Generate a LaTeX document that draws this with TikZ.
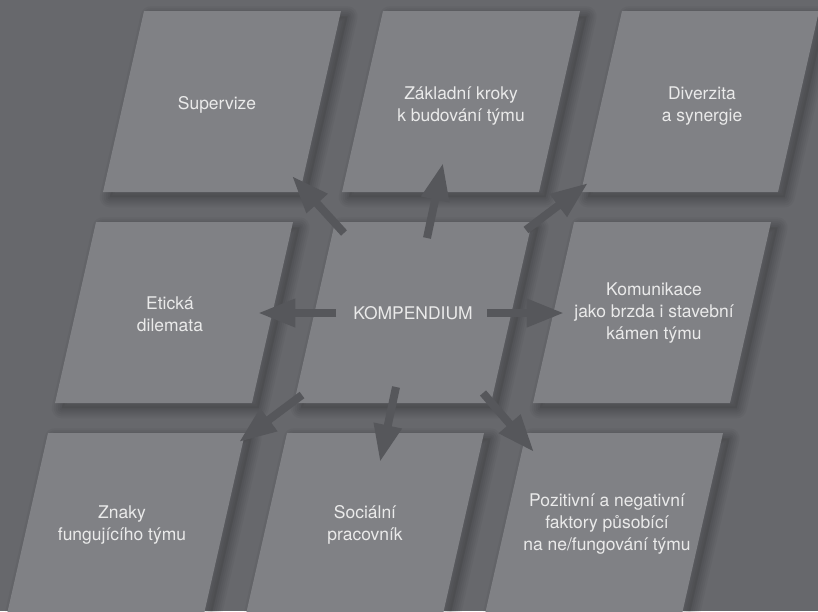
\documentclass[tikz,border=0pt]{standalone}
\usepackage{fontspec}
\setmainfont{TeX Gyre Heros}
\usetikzlibrary{arrows.meta}
\definecolor{bggray}{RGB}{103,104,108}
\definecolor{cellgray}{RGB}{128,129,133}
\definecolor{arrowgray}{RGB}{86,87,91}
\definecolor{txtgray}{RGB}{234,234,234}
\newcommand\cellpath[3]{(#1,#2) -- ++(197,0) -- ++({-41*#3/181},#3) -- ++(-197,0) -- cycle}
\newcommand\cellshadow[3]{%
  \begin{scope}[xshift=5pt,yshift=-4pt]
    \fill[black,opacity=0.07] \cellpath{#1}{#2}{#3};
    \foreach \w in {3,6,9,12,15}
      \draw[black,opacity=0.035,line width=\w pt,line join=round] \cellpath{#1}{#2}{#3};
  \end{scope}}
\begin{document}
\begin{tikzpicture}[x=0.75pt,y=-0.75pt,
  cellbox/.style={fill=cellgray},
  celltext/.style={text=txtgray, align=center, font=\fontsize{13.1}{16.3}\selectfont, inner sep=0pt},
  arr/.style={draw=arrowgray, line width=6pt, -{Triangle[length=28pt,width=20pt]}}]
\useasboundingbox (0,0) rectangle (818,611);
\clip (0,0) rectangle (818,611);
\fill[bggray] (0,0) rectangle (818,611);
% shadows
\cellshadow{144}{11}{181} \cellshadow{383}{11}{181} \cellshadow{622}{11}{181}
\cellshadow{96}{222}{181} \cellshadow{335}{222}{181} \cellshadow{574}{222}{181}
\cellshadow{48}{433}{209} \cellshadow{287}{433}{209} \cellshadow{526}{433}{209}
% cells
\path[cellbox] \cellpath{144}{11}{181};
\path[cellbox] \cellpath{383}{11}{181};
\path[cellbox] \cellpath{622}{11}{181};
\path[cellbox] \cellpath{96}{222}{181};
\path[cellbox] \cellpath{335}{222}{181};
\path[cellbox] \cellpath{574}{222}{181};
\path[cellbox] \cellpath{48}{433}{209};
\path[cellbox] \cellpath{287}{433}{209};
\path[cellbox] \cellpath{526}{433}{209};
% texts
\node[celltext] (sup) at (217,105) {Supervize};
\node[celltext] (zak) at (461,106) {Základní kroky\\k budování týmu};
\node[celltext] (div) at (702,106) {Diverzita\\a synergie};
\node[celltext] (eti) at (170,314) {Etická\\dilemata};
\node[celltext] (kom) at (413,313) {KOMPENDIUM};
\node[celltext] (komu) at (654,313) {Komunikace\\jako brzda i stavební\\kámen týmu};
\node[celltext] (zna) at (122,525) {Znaky\\fungujícího týmu};
\node[celltext] (soc) at (365,525) {Sociální\\pracovník};
\node[celltext] (poz) at (607,524) {Pozitivní a negativní\\faktory působící\\na ne/fungování týmu};
% arrow coordinates
\coordinate (s1) at (344,233); \coordinate (e1) at (292,176);
\coordinate (s2) at (427,238); \coordinate (e2) at (443,163);
\coordinate (s3) at (526,230); \coordinate (e3) at (588,183);
\coordinate (s4) at (336,313); \coordinate (e4) at (258,313);
\coordinate (s5) at (487,313); \coordinate (e5) at (564,313);
\coordinate (s6) at (302,395); \coordinate (e6) at (239,442);
\coordinate (s7) at (396,387); \coordinate (e7) at (380,462);
\coordinate (s8) at (483,393); \coordinate (e8) at (534,452);
\foreach \i in {1,...,8} {\draw[arr] (s\i) -- (e\i);}
\end{tikzpicture}
\end{document}
